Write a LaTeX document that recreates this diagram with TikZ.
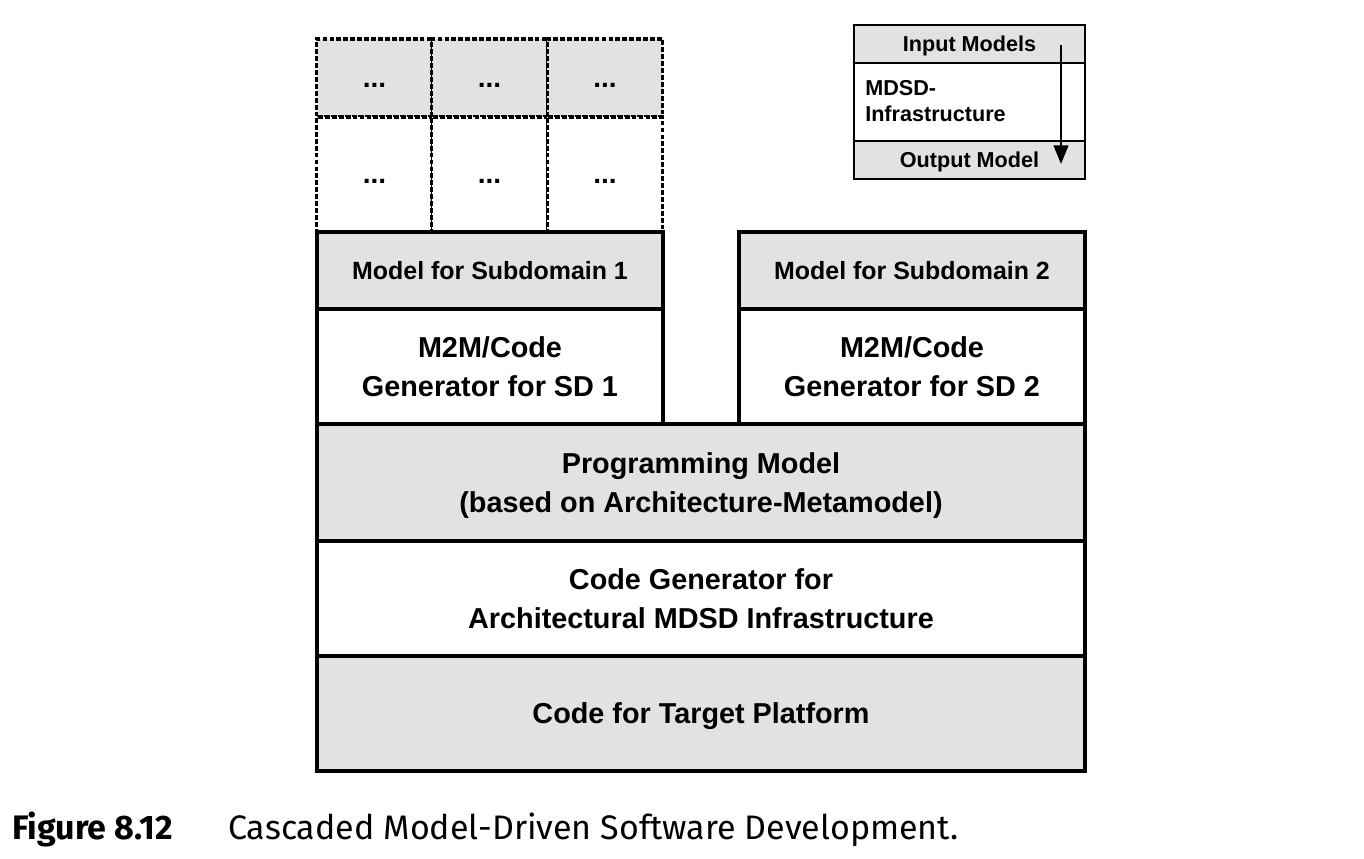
\documentclass[tikz,border=0pt]{standalone}
\usepackage{fontspec}
\setmainfont{Liberation Sans}
\newfontfamily\capfont{Fira Sans}
\usetikzlibrary{arrows.meta}
\definecolor{boxgray}{HTML}{E2E2E2}
\tikzset{
  box/.style={draw=black, line width=2.4pt, inner sep=0pt, align=center, font=\fontsize{21.6}{29}\selectfont\bfseries},
  graybox/.style={box, fill=boxgray},
  whitebox/.style={box, fill=white},
  smallbox/.style={font=\fontsize{18.7}{24}\selectfont\bfseries, text depth=0pt},
  dotbox/.style={draw=black, line width=2.3pt, dash pattern=on 3.6pt off 1.6pt, inner sep=0pt, minimum width=86.5pt, text height=14pt, text depth=0pt, font=\fontsize{21}{24}\selectfont\bfseries},
  legbox/.style={draw=black, line width=2.2pt, inner sep=0pt, minimum width=173.25pt, text depth=0pt, font=\fontsize{16.2}{20}\selectfont\bfseries},
  captext/.style={anchor=base west, inner sep=0pt, font=\capfont\fontsize{25.5}{30}\selectfont}
}
\begin{document}
\begin{tikzpicture}[x=0.75pt, y=-0.75pt]
\useasboundingbox (0,0) rectangle (1364,858);
% dotted grid
\node[dotbox, fill=boxgray, minimum height=58.5pt] (g11) at (374.5,78) {...};
\node[dotbox, fill=boxgray, minimum height=58.5pt] (g12) at (489.5,78) {...};
\node[dotbox, fill=boxgray, minimum height=58.5pt] (g13) at (605,78) {...};
\node[dotbox, fill=white, minimum height=86.25pt] (g21) at (374.5,174.5) {...};
\node[dotbox, fill=white, minimum height=86.25pt] (g22) at (489.5,174.5) {...};
\node[dotbox, fill=white, minimum height=86.25pt] (g23) at (605,174.5) {...};
% subdomain columns
\node[graybox, smallbox, minimum width=259.5pt, minimum height=57.75pt] (m1) at (490,270.5) {Model for Subdomain 1};
\node[whitebox, minimum width=259.5pt, minimum height=86.25pt] (c1) at (490,366.5) {M2M/Code\\Generator for SD 1};
\node[graybox, smallbox, minimum width=259.5pt, minimum height=57.75pt] (m2) at (912,270.5) {Model for Subdomain 2};
\node[whitebox, minimum width=259.5pt, minimum height=86.25pt] (c2) at (912,366.5) {M2M/Code\\Generator for SD 2};
% layers
\node[graybox, text depth=0pt, minimum width=576pt, minimum height=87.75pt] (pm) at (701,482.5) {Programming Model\\(based on Architecture-Metamodel)};
\node[whitebox, minimum width=576pt, minimum height=86.25pt] (cg) at (701,598.5) {Code Generator for\\Architectural MDSD Infrastructure};
\node[graybox, text depth=0pt, minimum width=576pt, minimum height=86.25pt] (ct) at (701,713.5) {Code for Target Platform};
% legend
\node[legbox, fill=boxgray, minimum height=28.5pt] (lin) at (969.5,44) {Input Models};
\node[legbox, fill=white, minimum height=58.5pt] (lmid) at (969.5,102) {};
\node[legbox, fill=boxgray, minimum height=28.5pt] (lout) at (969.5,160) {Output Model};
\node[anchor=west, align=left, inner sep=0pt, font=\fontsize{16.2}{20}\selectfont\bfseries] (lmidtext) at (865,101) {MDSD-\\Infrastructure};
\coordinate (arrS) at (1061,45);
\coordinate (arrE) at (1061,164);
\draw[line width=1.7pt, -{Triangle[width=11pt,length=14pt]}] (arrS) -- (arrE);
% caption
\node[captext, font=\capfont\fontsize{25.5}{30}\selectfont\bfseries] (figlab) at (12,839) {Figure 8.12};
\node[captext] (figcap) at (228,839) {Cascaded Model-Driven Software Development.};
\end{tikzpicture}
\end{document}
